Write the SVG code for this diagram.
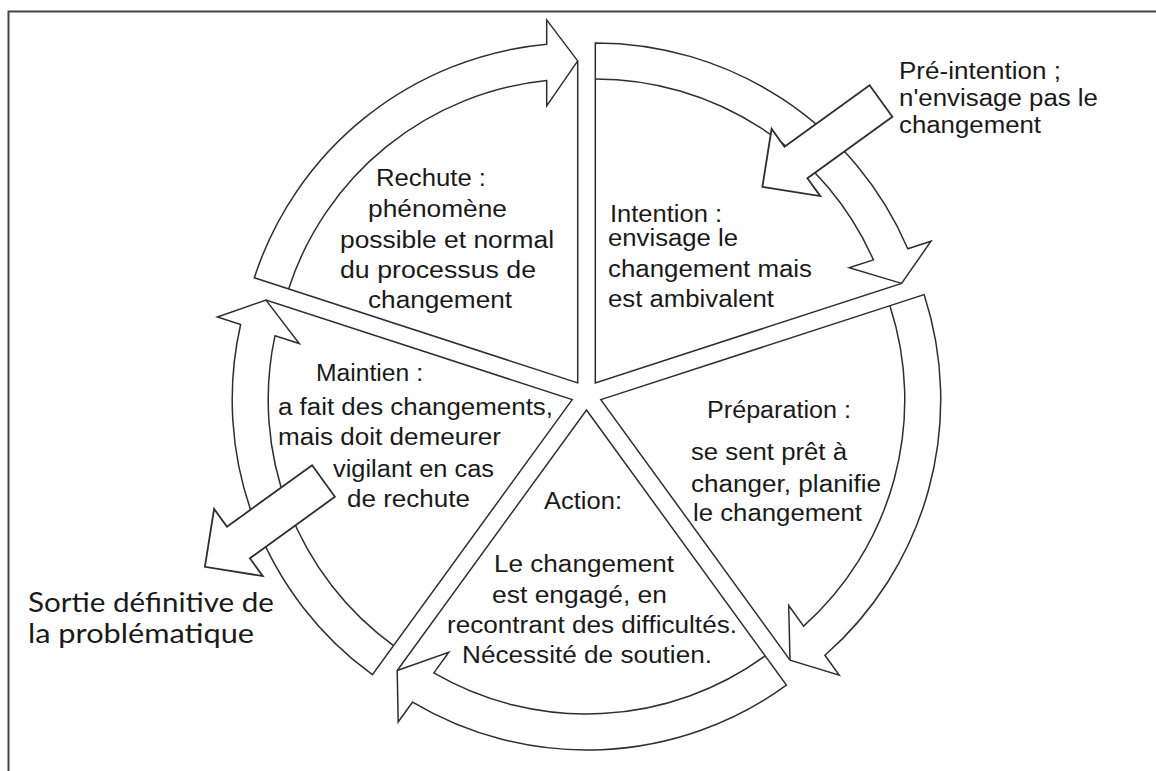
<svg xmlns="http://www.w3.org/2000/svg" width="1156" height="771" viewBox="0 0 1156 771">
<style>
.stage{fill:#fff;stroke:#2e2e2e;stroke-width:1.5;stroke-linejoin:miter}
.band{fill:none;stroke:#2e2e2e;stroke-width:1.5}
.blk{fill:#fff;stroke:#2e2e2e;stroke-width:1.8;stroke-linejoin:miter}
.t{font-family:"Liberation Sans",Arial,sans-serif;font-size:23px;fill:#1a1a1a}
.c{font-family:Lato,"Open Sans",sans-serif;font-size:26px;fill:#1a1a1a}
</style>
<rect width="1156" height="771" fill="#fff"/>
<path d="M8.5,771 V11.5 H1156" fill="none" stroke="#444" stroke-width="2"/>

<g id="node-rechute">
<path class="stage" d="M577.7,382.9 L254.3,277.8 A340,340 0 0 1 546.7,44.3 L546.7,19.9 L577.7,60.9 Z"/>
<path class="band" d="M288.6,288.9 A304,304 0 0 1 546.7,80.5 L546.7,105.9 L577.7,60.9"/>
<text class="t" x="376" y="186" textLength="110" lengthAdjust="spacingAndGlyphs">Rechute :</text>
<text class="t" x="368" y="217" textLength="139" lengthAdjust="spacingAndGlyphs">phénomène</text>
<text class="t" x="340" y="248" textLength="214" lengthAdjust="spacingAndGlyphs">possible et normal</text>
<text class="t" x="340" y="278" textLength="196" lengthAdjust="spacingAndGlyphs">du processus de</text>
<text class="t" x="368" y="308" textLength="144" lengthAdjust="spacingAndGlyphs">changement</text>
</g>

<g id="node-intention">
<path class="stage" d="M595.3,382.9 L595.3,42.9 A340,340 0 0 1 907.8,248.8 L931,241.2 L901.6,283.4 Z"/>
<path class="band" d="M595.3,78.9 A304,304 0 0 1 873.4,259.9 L849.2,267.8 L901.6,283.4"/>
<text class="t" x="610" y="222" textLength="112" lengthAdjust="spacingAndGlyphs">Intention :</text>
<text class="t" x="608" y="246" textLength="130" lengthAdjust="spacingAndGlyphs">envisage le</text>
<text class="t" x="608" y="277" textLength="204" lengthAdjust="spacingAndGlyphs">changement mais</text>
<text class="t" x="608" y="307" textLength="166" lengthAdjust="spacingAndGlyphs">est ambivalent</text>
</g>

<g id="node-preparation">
<path class="stage" d="M600.8,399.6 L924.1,294.6 A340,340 0 0 1 824.9,655.3 L839.2,675.1 L790,660.1 Z"/>
<path class="band" d="M889.9,305.7 A304,304 0 0 1 803.6,626.1 L788.7,605.5 L790,660.1"/>
<text class="t" x="707" y="418" textLength="144" lengthAdjust="spacingAndGlyphs">Préparation :</text>
<text class="t" x="691" y="460" textLength="156" lengthAdjust="spacingAndGlyphs">se sent prêt à</text>
<text class="t" x="691" y="492" textLength="190" lengthAdjust="spacingAndGlyphs">changer, planifie</text>
<text class="t" x="693" y="521" textLength="169" lengthAdjust="spacingAndGlyphs">le changement</text>
</g>

<g id="node-action">
<path class="stage" d="M586.5,410 L786.4,685.1 A340,340 0 0 1 412.6,702.1 L398.2,721.9 L397.2,670.5 Z"/>
<path class="band" d="M765.2,655.9 A304,304 0 0 1 433.8,672.9 L448.8,652.3 L397.2,670.5"/>
<text class="t" x="544" y="509" textLength="78" lengthAdjust="spacingAndGlyphs">Action:</text>
<text class="t" x="494" y="572" textLength="180" lengthAdjust="spacingAndGlyphs">Le changement</text>
<text class="t" x="492" y="603" textLength="175" lengthAdjust="spacingAndGlyphs">est engagé, en</text>
<text class="t" x="447" y="633" textLength="290" lengthAdjust="spacingAndGlyphs">recontrant des difficultés.</text>
<text class="t" x="462" y="663" textLength="250" lengthAdjust="spacingAndGlyphs">Nécessité de soutien.</text>
</g>

<g id="node-maintien">
<path class="stage" d="M572.2,399.6 L372.4,674.7 A340,340 0 0 1 240.6,324.5 L217.4,317 L266,300.1 Z"/>
<path class="band" d="M393.5,645.6 A304,304 0 0 1 275,335.7 L299.2,343.5 L266,300.1"/>
<text class="t" x="316" y="381" textLength="107" lengthAdjust="spacingAndGlyphs">Maintien :</text>
<text class="t" x="278" y="415" textLength="275" lengthAdjust="spacingAndGlyphs">a fait des changements,</text>
<text class="t" x="278" y="445" textLength="223" lengthAdjust="spacingAndGlyphs">mais doit demeurer</text>
<text class="t" x="333" y="477" textLength="161" lengthAdjust="spacingAndGlyphs">vigilant en cas</text>
<text class="t" x="347" y="507" textLength="123" lengthAdjust="spacingAndGlyphs">de rechute</text>
</g>

<g id="connectors">
<path class="blk" d="M869.6,85.2 L892.4,116.8 L807.4,178.3 L820.3,196.1 L762.4,186.8 L771.6,128.9 L784.5,146.7 Z"/>
<path class="blk" d="M312.1,465.2 L334.9,496.8 L249.9,558.3 L262.8,576.1 L204.9,566.8 L214.1,508.9 L227,526.7 Z"/>
</g>

<g id="node-pre-intention">
<text class="t" x="899" y="79" textLength="162" lengthAdjust="spacingAndGlyphs">Pré-intention ;</text>
<text class="t" x="899" y="106" textLength="199" lengthAdjust="spacingAndGlyphs">n'envisage pas le</text>
<text class="t" x="899" y="133" textLength="142" lengthAdjust="spacingAndGlyphs">changement</text>
</g>

<g id="node-sortie">
<text class="c" x="28" y="612" textLength="246" lengthAdjust="spacingAndGlyphs">Sortie définitive de</text>
<text class="c" x="28" y="643" textLength="226" lengthAdjust="spacingAndGlyphs">la problématique</text>
</g>
</svg>
